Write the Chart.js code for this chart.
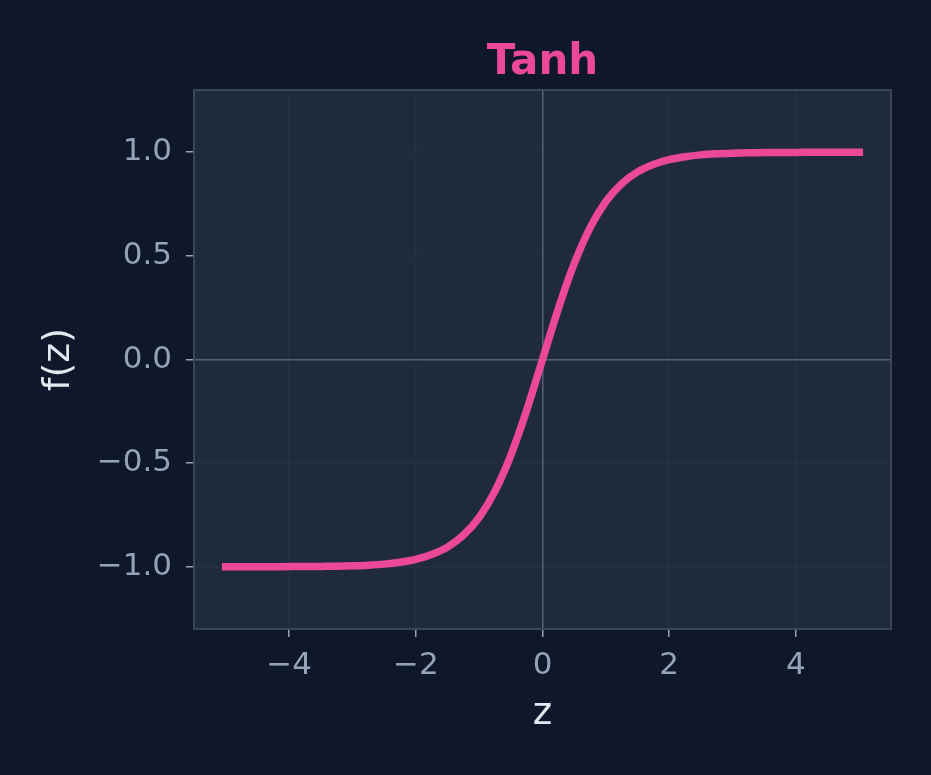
<!DOCTYPE html>
<html>
<head>
<meta charset="utf-8">
<script src="https://cdn.jsdelivr.net/npm/chart.js@4"></script>
<style>
  html, body { margin: 0; padding: 0; background: #0f172a; }
  canvas { display: block; }
</style>
</head>
<body>
<canvas id="tanhChart" width="931" height="775"></canvas>
<script>
// values
const zValues = [-5, -4.75, -4.5, -4.25, -4, -3.75, -3.5, -3.25, -3, -2.75, -2.5, -2.25, -2, -1.75, -1.5, -1.25, -1, -0.75, -0.5, -0.25,
  0, 0.25, 0.5, 0.75, 1, 1.25, 1.5, 1.75, 2, 2.25, 2.5, 2.75, 3, 3.25, 3.5, 3.75, 4, 4.25, 4.5, 4.75, 5];
const fValues = [-1.000, -1.000, -1.000, -1.000, -0.999, -0.999, -0.998, -0.997, -0.995, -0.992, -0.987, -0.978, -0.964, -0.941, -0.905, -0.848, -0.762, -0.635, -0.462, -0.245,
  0.000, 0.245, 0.462, 0.635, 0.762, 0.848, 0.905, 0.941, 0.964, 0.978, 0.987, 0.992, 0.995, 0.997, 0.998, 0.999, 0.999, 1.000, 1.000, 1.000, 1.000];
const xTicks = [-4, -2, 0, 2, 4];
const yTicks = [-1.0, -0.5, 0.0, 0.5, 1.0];

const TEXT = '#94a3b8';
const FONT = "'DejaVu Sans', sans-serif";

const minus = s => String(s).replace('-', '\u2212');

// plot background, border and title
const framePlugin = {
  id: 'frame',
  beforeDraw(chart) {
    const { ctx, chartArea: a } = chart;
    ctx.save();
    ctx.fillStyle = '#0f172a';
    ctx.fillRect(0, 0, chart.width, chart.height);
    ctx.fillStyle = '#1f2a3b';
    ctx.fillRect(a.left, a.top, a.right - a.left, a.bottom - a.top);
    ctx.restore();
  },
  beforeDatasetsDraw(chart) {
    const { ctx, chartArea: a } = chart;
    ctx.save();
    ctx.strokeStyle = '#3a4658';
    ctx.lineWidth = 2;
    ctx.strokeRect(a.left, a.top, a.right - a.left, a.bottom - a.top);
    ctx.restore();
  },
  afterDraw(chart) {
    const { ctx, chartArea: a } = chart;
    ctx.save();
    ctx.fillStyle = '#ec4899';
    ctx.font = "bold 42px " + FONT;
    ctx.textAlign = 'center';
    ctx.textBaseline = 'middle';
    ctx.fillText('Tanh', (a.left + a.right) / 2, 63);
    ctx.restore();
  }
};

const gridColor = c => c.tick && c.tick.value === 0 ? '#566175' : 'rgba(148,163,184,0.05)';

new Chart(document.getElementById('tanhChart'), {
  type: 'line',
  data: {
    datasets: [{
      data: zValues.map((z, i) => ({ x: z, y: fValues[i] })),
      borderColor: '#ec4899',
      borderWidth: 7.5,
      borderCapStyle: 'square',
      pointRadius: 0,
      cubicInterpolationMode: 'monotone',
      fill: false
    }]
  },
  options: {
    responsive: false,
    animation: false,
    layout: { padding: { top: 90, right: 40, left: 0, bottom: 0 } },
    plugins: {
      legend: { display: false },
      tooltip: { enabled: false },
      title: { display: false }
    },
    scales: {
      x: {
        type: 'linear',
        min: -5.5,
        max: 5.5,
        afterBuildTicks: s => { s.ticks = xTicks.map(v => ({ value: v })); },
        afterFit: s => { s.height = 146; },
        grid: { color: gridColor, lineWidth: 1.5, tickColor: TEXT, tickLength: 8, tickWidth: 1.5 },
        border: { display: false },
        ticks: { color: TEXT, font: { family: FONT, size: 31 }, padding: 10, callback: v => minus(v) },
        title: { display: true, text: 'z', color: '#e2e8f0', font: { family: FONT, size: 37 }, padding: { top: 0, bottom: 38 } }
      },
      y: {
        type: 'linear',
        min: -1.3,
        max: 1.3,
        afterBuildTicks: s => { s.ticks = yTicks.map(v => ({ value: v })); },
        afterFit: s => { s.width = 194; },
        grid: { color: gridColor, lineWidth: 1.5, tickColor: TEXT, tickLength: 8, tickWidth: 1.5 },
        border: { display: false },
        ticks: { color: TEXT, font: { family: FONT, size: 31 }, padding: 14, callback: v => minus(Number(v).toFixed(1)) },
        title: { display: true, text: 'f(z)', color: '#e2e8f0', font: { family: FONT, size: 38 }, padding: { top: 36, bottom: 0 } }
      }
    }
  },
  plugins: [framePlugin]
});
</script>
</body>
</html>
